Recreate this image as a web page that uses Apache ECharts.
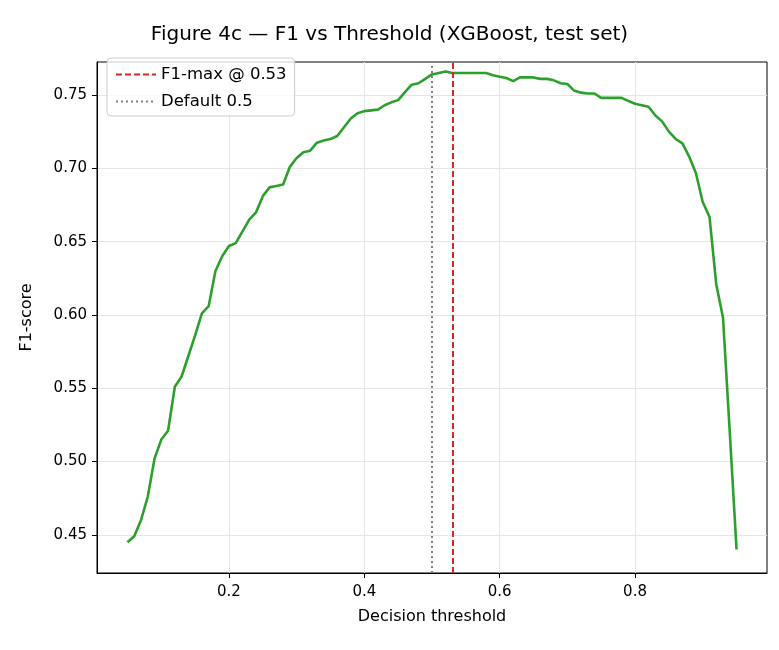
<!DOCTYPE html>
<html>
<head>
<meta charset="utf-8">
<script src="https://cdn.jsdelivr.net/npm/echarts@6/dist/echarts.min.js"></script>
<style>html,body{margin:0;padding:0;background:#fff}#chart{width:779px;height:650px}</style>
</head>
<body>
<div id="chart"></div>
<script>
// 阈值 0.05 .. 0.95
const thresholds = [];
for (let i = 5; i <= 95; i++) thresholds.push(i / 100);

const f1Scores = [
    0.445, 0.449, 0.460, 0.476, 0.502, 0.515, 0.521, 0.551, 0.558, 0.572,
    0.586, 0.601, 0.606, 0.630, 0.640, 0.647, 0.649, 0.657, 0.665, 0.670,
    0.681, 0.687, 0.688, 0.689, 0.701, 0.707, 0.711, 0.712, 0.7175, 0.719,
    0.720, 0.722, 0.728, 0.734, 0.7375, 0.739, 0.7395, 0.740, 0.743, 0.745,
    0.7465, 0.752, 0.757, 0.758, 0.761, 0.764, 0.765, 0.766, 0.765, 0.765,
    0.765, 0.765, 0.765, 0.765, 0.7634, 0.7625, 0.7616, 0.7595, 0.762, 0.762,
    0.762, 0.761, 0.761, 0.760, 0.758, 0.7575, 0.753, 0.7516, 0.751, 0.751,
    0.748, 0.748, 0.748, 0.748, 0.746, 0.744, 0.743, 0.742, 0.736, 0.732,
    0.725, 0.720, 0.717, 0.708, 0.6966, 0.677, 0.667, 0.621, 0.598, 0.52,
    0.44
];

const bestThreshold = 0.53;
const defaultThreshold = 0.5;
const xTicks = [0.2, 0.4, 0.6, 0.8];
const yTicks = [0.45, 0.50, 0.55, 0.60, 0.65, 0.70, 0.75];

const font = 'DejaVu Sans';
const chart = echarts.init(document.getElementById('chart'));

chart.setOption({
    animation: false,
    textStyle: { fontFamily: font },
    title: {
        text: 'Figure 4c — F1 vs Threshold (XGBoost, test set)',
        left: 'center', top: 20,
        textStyle: { fontFamily: font, fontSize: 20, fontWeight: 'normal', color: '#000' }
    },
    grid: {
        left: 97, right: 12, top: 62, bottom: 77,
        show: true, borderColor: '#000', borderWidth: 1
    },
    legend: {
        left: 107, top: 58, orient: 'vertical',
        itemWidth: 40, itemHeight: 10, itemGap: 10,
        padding: [8, 8, 6, 8],
        backgroundColor: 'rgba(255,255,255,0.8)',
        borderColor: '#ccc', borderWidth: 1, borderRadius: 4,
        itemStyle: { opacity: 0 },
        textStyle: { fontFamily: font, fontSize: 16.5, color: '#000' },
        data: ['F1-max @ 0.53', 'Default 0.5']
    },
    xAxis: {
        type: 'value', min: 0.005, max: 0.995,
        name: 'Decision threshold', nameLocation: 'middle', nameGap: 36,
        nameTextStyle: { fontFamily: font, fontSize: 16, color: '#000' },
        axisLine: { show: true, lineStyle: { color: '#000' } },
        axisTick: { show: true, length: 5, lineStyle: { color: '#000' }, customValues: xTicks },
        axisLabel: {
            fontFamily: font, fontSize: 15, color: '#000', margin: 12,
            customValues: xTicks, formatter: v => v.toFixed(1)
        },
        splitLine: { lineStyle: { color: '#e5e5e5' } }
    },
    yAxis: {
        type: 'value', min: 0.424, max: 0.7725,
        name: 'F1-score', nameLocation: 'middle', nameGap: 62,
        nameTextStyle: { fontFamily: font, fontSize: 16, color: '#000' },
        axisLine: { show: true, lineStyle: { color: '#000' } },
        axisTick: { show: true, length: 5, lineStyle: { color: '#000' }, customValues: yTicks },
        axisLabel: {
            fontFamily: font, fontSize: 15, color: '#000', margin: 10,
            customValues: yTicks, formatter: v => v.toFixed(2)
        },
        splitLine: { lineStyle: { color: '#e5e5e5' } }
    },
    series: [
        {
            name: 'F1', type: 'line', symbol: 'none',
            data: thresholds.map((t, i) => [t, f1Scores[i]]),
            lineStyle: { color: '#2ca02c', width: 2.6 },
            z: 3
        },
        {
            name: 'F1-max @ 0.53', type: 'line', symbol: 'none', data: [],
            color: '#d62728',
            lineStyle: { color: '#d62728', type: [6, 3], width: 2 },
            markLine: {
                silent: true, symbol: 'none', label: { show: false },
                lineStyle: { color: '#d62728', type: [6, 3], width: 2 },
                data: [{ xAxis: bestThreshold }]
            }
        },
        {
            name: 'Default 0.5', type: 'line', symbol: 'none', data: [],
            color: '#808080',
            lineStyle: { color: '#808080', type: [2, 3], width: 2 },
            markLine: {
                silent: true, symbol: 'none', label: { show: false },
                lineStyle: { color: '#808080', type: [2, 3], width: 2 },
                data: [{ xAxis: defaultThreshold }]
            }
        }
    ]
});
</script>
</body>
</html>
